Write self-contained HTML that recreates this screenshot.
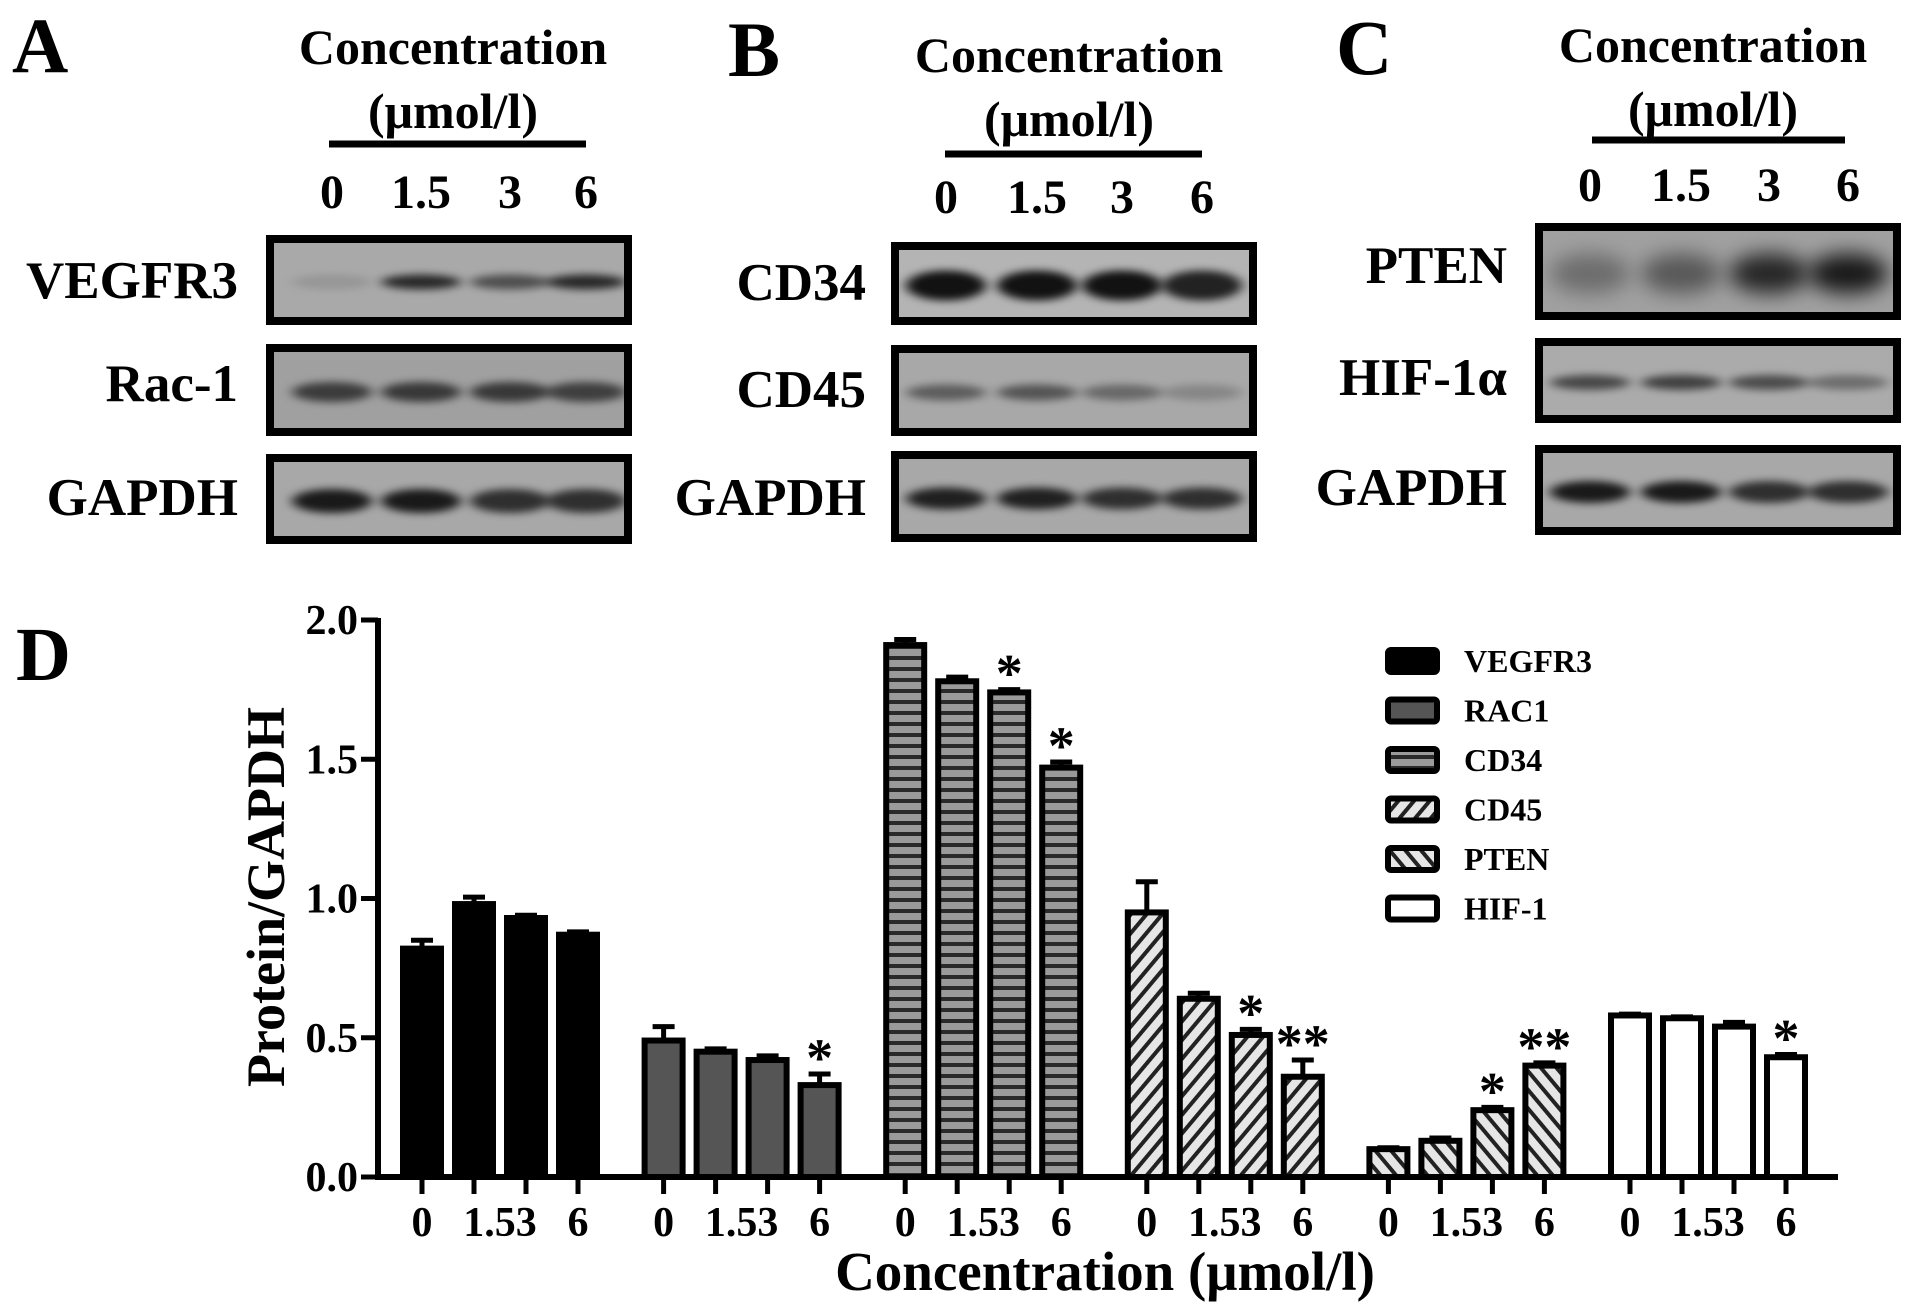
<!DOCTYPE html>
<html><head><meta charset="utf-8"><style>
html,body{margin:0;padding:0;background:#fff;width:1913px;height:1313px;overflow:hidden}
svg{display:block}
text{font-family:"Liberation Serif","DejaVu Serif",serif;font-weight:bold;fill:#000}
</style></head><body>
<svg id="fig" width="1913" height="1313" viewBox="0 0 1913 1313">
<defs>
<filter id="blur" x="-30%" y="-100%" width="160%" height="300%"><feGaussianBlur stdDeviation="6 4"/></filter>
<filter id="blurBig" x="-30%" y="-100%" width="160%" height="300%"><feGaussianBlur stdDeviation="10 10"/></filter>
<pattern id="pStripe" width="10" height="11" patternUnits="userSpaceOnUse"><rect width="10" height="11" fill="#9a9a9a"/><rect y="7" width="10" height="4" fill="#2a2a2a"/></pattern>
<pattern id="pFwd" width="12" height="12" patternUnits="userSpaceOnUse" patternTransform="rotate(40)"><rect width="12" height="12" fill="#e6e6e6"/><rect width="4" height="12" fill="#222"/></pattern>
<pattern id="pBack" width="12" height="12" patternUnits="userSpaceOnUse" patternTransform="rotate(-40)"><rect width="12" height="12" fill="#e6e6e6"/><rect width="4" height="12" fill="#222"/></pattern>
</defs>
<g id="blots"></g>
<g id="chart"></g>
</svg>
<script>
// ---- Chart data ----
const groups = ["VEGFR3","RAC1","CD34","CD45","PTEN","HIF-1"];
const concLabels = ["0","1.53","6"];
const vegfr3 = [0.82,0.98,0.93,0.87];
const rac1   = [0.49,0.45,0.42,0.33];
const cd34   = [1.91,1.78,1.74,1.47];
const cd45   = [0.95,0.64,0.51,0.36];
const pten   = [0.10,0.13,0.24,0.40];
const hif1   = [0.58,0.57,0.54,0.43];
const errVegfr3 = [0.03,0.025,0.01,0.01];
const errRac1   = [0.05,0.01,0.015,0.04];
const errCd34   = [0.02,0.015,0.01,0.02];
const errCd45   = [0.11,0.02,0.02,0.06];
const errPten   = [0.005,0.01,0.01,0.01];
const errHif1   = [0.005,0.005,0.015,0.01];
const starsVegfr3 = ["","","",""];
const starsRac1   = ["","","","*"];
const starsCd34   = ["","","*","*"];
const starsCd45   = ["","","*","**"];
const starsPten   = ["","","*","**"];
const starsHif1   = ["","","","*"];
const yTicks = [0,0.5,1.0,1.5,2.0];
const yTickLabels = ["0.0","0.5","1.0","1.5","2.0"];

const NS="http://www.w3.org/2000/svg";
function mk(tag,attrs,parent,txt){const e=document.createElementNS(NS,tag);for(const k in attrs)e.setAttribute(k,attrs[k]);if(txt!==undefined)e.textContent=txt;parent.appendChild(e);return e;}

const chart=document.getElementById('chart');
const X0=378, Y0=1177, YTOP=620, XEND=1838;
function yS(v){return Y0-(v/2.0)*(Y0-YTOP);}
function xS(g,i){return 422+g*241.6+i*52;}
const series=[vegfr3,rac1,cd34,cd45,pten,hif1];
const errs=[errVegfr3,errRac1,errCd34,errCd45,errPten,errHif1];
const stars=[starsVegfr3,starsRac1,starsCd34,starsCd45,starsPten,starsHif1];
const fills=["#000","#555","url(#pStripe)","url(#pFwd)","url(#pBack)","#fff"];
const BW=38;

series.forEach((vals,g)=>{
  vals.forEach((v,i)=>{
    const cx=xS(g,i), top=yS(v), et=yS(v+errs[g][i]);
    const eb=mk('line',{x1:cx,x2:cx,y1:top,y2:et,stroke:'#000','stroke-width':5},chart);
    
    
    const cap=mk('line',{x1:cx-11,x2:cx+11,y1:et,y2:et,stroke:'#000','stroke-width':5},chart);
    
    
    const r=mk('rect',{x:cx-BW/2,y:top,width:BW,height:Y0-top,fill:fills[g],stroke:'#000','stroke-width':6},chart);
    
    
    if(stars[g][i]){
      const s=mk('text',{x:cx,y:et+2,'text-anchor':'middle','font-size':54},chart,stars[g][i]);
      
      
    }
    const t=mk('line',{x1:cx,x2:cx,y1:Y0,y2:Y0+17,stroke:'#000','stroke-width':5},chart);
    
    
  });
  const lx=[xS(g,0),(xS(g,1)+xS(g,2))/2,xS(g,3)];
  concLabels.forEach((lab,j)=>{
    const tl=mk('text',{x:lx[j],y:1236,'text-anchor':'middle','font-size':42},chart,lab);
    
    
  });
});
const ya=mk('line',{x1:X0,x2:X0,y1:YTOP-2,y2:Y0+2,stroke:'#000','stroke-width':6},chart);


const xa=mk('line',{x1:X0-3,x2:XEND,y1:Y0,y2:Y0,stroke:'#000','stroke-width':6},chart);


yTicks.forEach((v,i)=>{
  const y=yS(v);
  const tk=mk('line',{x1:X0-17,x2:X0,y1:y,y2:y,stroke:'#000','stroke-width':5},chart);
  
  
  const tl=mk('text',{x:X0-20,y:y+14,'text-anchor':'end','font-size':42},chart,yTickLabels[i]);
  
  
});
const yt=mk('text',{x:0,y:0,'text-anchor':'middle','font-size':54,transform:'translate(284,897) rotate(-90)'},chart,'Protein/GAPDH');


const xt=mk('text',{x:1105,y:1290,'text-anchor':'middle','font-size':55},chart,'Concentration (μmol/l)');


const legFills=["#000","#555","url(#pStripe)","url(#pFwd)","url(#pBack)","#fff"];
const legLabels=["VEGFR3","RAC1","CD34","CD45","PTEN","HIF-1"];
legLabels.forEach((lab,i)=>{
  const cy=661+i*49.5;
  const b=mk('rect',{x:1388,y:cy-11,width:49,height:22,rx:3,fill:legFills[i],stroke:'#000','stroke-width':6},chart);
  
  
  const t=mk('text',{x:1464,y:cy+11,'font-size':32},chart,lab);
  
  
});
const dl=mk('text',{x:16,y:680,'font-size':76},chart,'D');



// ---- Western blots ----
const blots=document.getElementById('blots');
const panels=[
 {letter:'A',lx:12,ly:72,cx:453,cy1:64,cy2:128,line:[329,586,144],ny:208,lanes:[332,421,510,586],bx:266,bw:366,
  rows:[{n:'VEGFR3',y:235,h:90,bg:'#a9a9a9',w:[0.12,0.85,0.6,0.85],bh:9,ly:281},
        {n:'Rac-1',y:344,h:92,bg:'#a0a0a0',w:[0.7,0.72,0.72,0.68],bh:14,ly:384},
        {n:'GAPDH',y:454,h:90,bg:'#a8a8a8',w:[0.95,0.95,0.8,0.8],bh:18,ly:498}],labR:238},
 {letter:'B',lx:728,ly:76,cx:1069,cy1:72,cy2:136,line:[945,1202,154],ny:213,lanes:[946,1037,1122,1202],bx:891,bw:366,
  rows:[{n:'CD34',y:242,h:83,bg:'#b4b4b4',w:[1,1,1,0.9],bh:24,ly:283},
        {n:'CD45',y:345,h:91,bg:'#a8a8a8',w:[0.5,0.55,0.42,0.22],bh:10,ly:390},
        {n:'GAPDH',y:451,h:91,bg:'#a8a8a8',w:[0.9,0.9,0.8,0.8],bh:16,ly:498}],labR:866},
 {letter:'C',lx:1336,ly:74,cx:1713,cy1:62,cy2:126,line:[1592,1845,140],ny:201,lanes:[1590,1681,1769,1848],bx:1535,bw:366,
  rows:[{n:'PTEN',y:223,h:97,bg:'#a0a0a0',w:[0.35,0.5,0.85,0.95],bh:34,ly:266},
        {n:'HIF-1α',y:338,h:85,bg:'#ababab',w:[0.65,0.7,0.62,0.4],bh:9,ly:378},
        {n:'GAPDH',y:445,h:90,bg:'#a8a8a8',w:[0.95,0.95,0.8,0.8],bh:16,ly:488}],labR:1507}
];
const nums=["0","1.5","3","6"];
panels.forEach(p=>{
  const L=mk('text',{x:p.lx,y:p.ly,'font-size':78},blots,p.letter);
  
  
  const c1=mk('text',{x:p.cx,y:p.cy1,'text-anchor':'middle','font-size':50},blots,'Concentration');
  
  
  const c2=mk('text',{x:p.cx,y:p.cy2,'text-anchor':'middle','font-size':50},blots,'(μmol/l)');
  
  
  const ln=mk('line',{x1:p.line[0],x2:p.line[1],y1:p.line[2],y2:p.line[2],stroke:'#000','stroke-width':7},blots);
  
  
  p.lanes.forEach((x,i)=>{
    const t=mk('text',{x:x,y:p.ny,'text-anchor':'middle','font-size':48},blots,nums[i]);
    
    
  });
  p.rows.forEach(r=>{
    const g=mk('g',{},blots);
    
    
    mk('rect',{x:p.bx,y:r.y,width:p.bw,height:r.h,fill:r.bg},g);
    const cp='cp'+p.letter+r.y;
    const clip=mk('clipPath',{id:cp},g);
    mk('rect',{x:p.bx,y:r.y,width:p.bw,height:r.h},clip);
    const bg=mk('g',{'clip-path':'url(#'+cp+')'},g);
    p.lanes.forEach((x,i)=>{
      const a=r.w[i];
      mk('ellipse',{cx:x,cy:r.y+r.h/2+2,rx:40,ry:r.bh/2+3,fill:'#000','fill-opacity':(a*0.9).toFixed(2),filter:r.bh>25?'url(#blurBig)':'url(#blur)'},bg);
    });
    mk('rect',{x:p.bx+4,y:r.y+4,width:p.bw-8,height:r.h-8,fill:'none',stroke:'#000','stroke-width':8},g);
    const lt=mk('text',{x:p.labR,y:r.ly+17,'text-anchor':'end','font-size':53},blots,r.n);
    
    
  });
});
</script>
</body></html>
